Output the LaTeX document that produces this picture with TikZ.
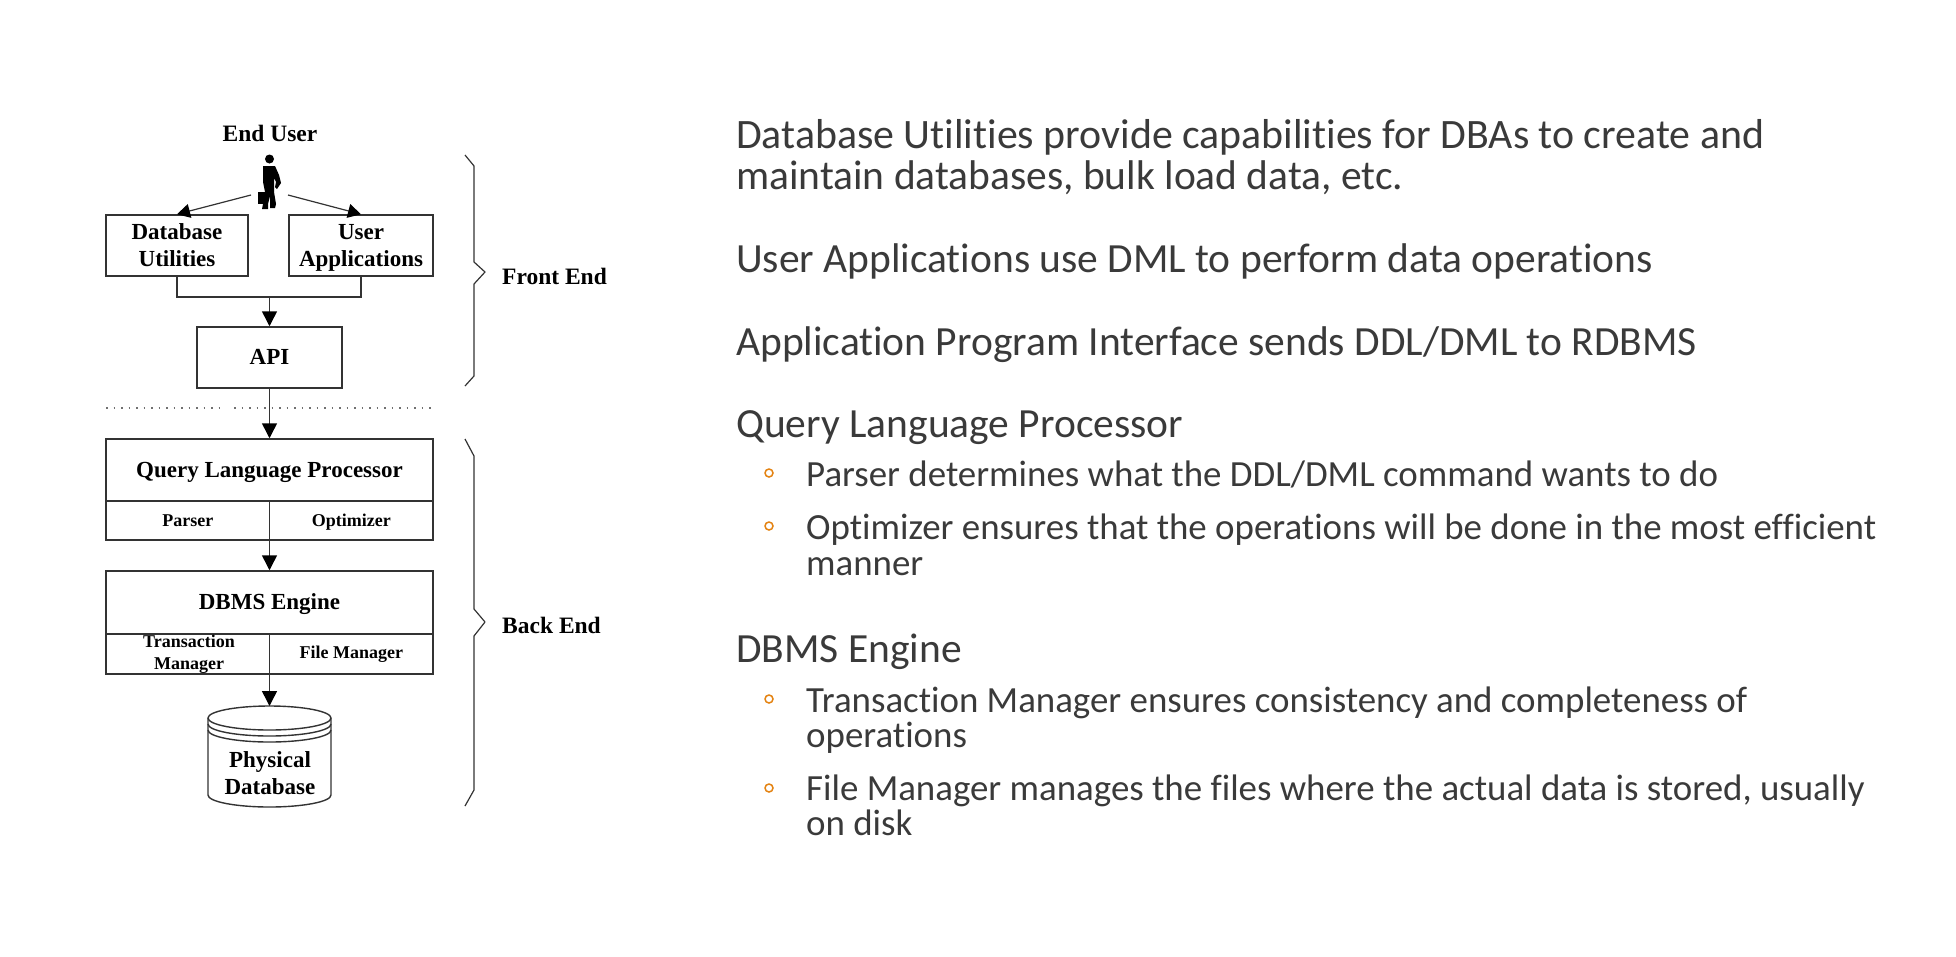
\documentclass[tikz,border=0pt]{standalone}
\usepackage{fontspec}
\setmainfont{Carlito}[Ligatures=NoCommon]
\newfontfamily\dgfont{Liberation Serif}[BoldFont={Liberation Serif Bold}]
\usetikzlibrary{arrows.meta,calc}
\definecolor{ink}{HTML}{333333}
\definecolor{slide}{HTML}{3A3A3A}
\definecolor{accent}{HTML}{E48312}
\tikzset{
  x=1pt,y=-1pt,
  dgbox/.style={draw=ink,line width=1.5pt,fill=white,inner sep=0pt,align=center,text=black,font=\dgfont\bfseries\fontsize{23}{27}\selectfont},
  dgsmall/.style={dgbox,font=\dgfont\bfseries\fontsize{18}{23}\selectfont},
  dglabel/.style={inner sep=0pt,text=black,font=\dgfont\bfseries\fontsize{23.5}{24}\selectfont},
  conn/.style={draw=ink,line width=1.5pt},
  arr/.style={conn,-{Triangle[length=15pt,width=15pt,color=black]}},
  thin arr/.style={conn,line width=1.2pt,-{Triangle[length=13pt,width=14pt,color=black]}},
  bracecurve/.style={draw=ink,line width=1.2pt,line join=round},
  headline/.style={anchor=base west,inner sep=0pt,text=slide,font=\fontsize{41.5}{41}\selectfont},
  headwide/.style={headline,font=\fontsize{41.85}{41}\selectfont},
  subline/.style={anchor=base west,inner sep=0pt,text=slide,font=\fontsize{36.9}{37}\selectfont},
  bulletdot/.style={circle,draw=accent,line width=1.5pt,minimum size=8pt,inner sep=0pt},
}
\begin{document}
\begin{tikzpicture}
\useasboundingbox (0,0) rectangle (1956,956);
\fill[white] (0,0) rectangle (1956,956);

% user figure
\node[dglabel] (enduser) at (270,133) {End User};
\coordinate (userL) at (251,195);
\coordinate (userR) at (288,195);
\fill[black] (269.5,159) circle (4.5);
\fill[black] (263,166) -- (275,166) -- (279,175) -- (281,183) -- (277,189) -- (275,187) -- (276,182) -- (274,178)
  -- (274,192) -- (276,204) -- (275,208) -- (270,208) -- (270,196) -- (268,204) -- (268,209) -- (262,209) -- (263,204) -- (265,192) -- (263,182) -- cycle;
\fill[black] (258,192) rectangle (267,204);

% front end boxes
\node[dgbox,minimum width=142pt,minimum height=61pt] (dbu) at (177,245.5) {Database\\Utilities};
\node[dgbox,minimum width=144pt,minimum height=61pt,text depth=0pt] (uapp) at (361,245.5) {User\\Applications};
\node[dgbox,minimum width=145pt,minimum height=61pt,text depth=1pt] (api) at (269.5,357.5) {API};

% dotted separator
\coordinate (dotA) at (106,408);
\coordinate (dotB) at (219,408);
\coordinate (dotC) at (234,408);
\coordinate (dotD) at (433,408);
\draw[ink!70,line width=1.5pt,dash pattern=on 1.5pt off 6pt] (dotA) -- (dotB) (dotC) -- (dotD);

% back end boxes
\node[dgbox,minimum width=327pt,minimum height=62pt,text depth=0pt] (qlp) at (269.5,470) {Query Language Processor};
\node[dgsmall,minimum width=163.5pt,minimum height=39pt] (parser) at (187.75,520.5) {Parser};
\node[dgsmall,minimum width=163.5pt,minimum height=39pt,text depth=0pt] (optimizer) at (351.25,520.5) {Optimizer};
\node[dgbox,minimum width=327pt,minimum height=63pt,text depth=2pt] (dbms) at (269.5,602.5) {DBMS Engine};
\node[dgsmall,minimum width=163.5pt,minimum height=40pt] (txn) at (187.75,654) {};
\node[dgsmall,minimum width=163.5pt,minimum height=40pt] (fileman) at (351.25,654) {File Manager};
\node[inner sep=0pt,align=center,text=black,font=\dgfont\bfseries\fontsize{18}{22}\selectfont] (txnlabel) at (189,654) {Transaction\\Manager};

% cylinder
\draw[ink,line width=1.4pt,fill=white] (208,718) arc[start angle=180,end angle=360,x radius=61.5,y radius=12]
  -- (331,795) arc[start angle=0,end angle=180,x radius=61.5,y radius=12] -- cycle;
\draw[ink,line width=1.4pt] (208,718) arc[start angle=180,end angle=0,x radius=61.5,y radius=12];
\draw[ink,line width=1.4pt] (208,724) arc[start angle=180,end angle=0,x radius=61.5,y radius=12];
\draw[ink,line width=1.4pt] (208,730) arc[start angle=180,end angle=0,x radius=61.5,y radius=12];
\coordinate (cyltop) at (269.5,706);
\node[inner sep=0pt,align=center,text=black,font=\dgfont\bfseries\fontsize{23}{27}\selectfont] (physdb) at (270,773) {Physical\\Database};

% connectors
\draw[thin arr] (userL) -- (dbu.north);
\draw[thin arr] (userR) -- (uapp.north);
\coordinate (merge) at (269.5,297);
\draw[conn] (dbu.south) |- (merge) -| (uapp.south);
\draw[arr] (merge) -- (api.north);
\draw[arr] (api.south) -- (qlp.north);
\draw[arr] (qlp.south) -- (dbms.north);
\draw[arr] (dbms.south) -- (cyltop);

% braces
\coordinate (feTop) at (465,155);
\coordinate (feTip) at (485,272);
\coordinate (feBot) at (465,386);
\draw[bracecurve] (feTop) -- (474,166) -- (474,262) -- (feTip) -- (474,284) -- (474,376) -- (feBot);
\coordinate (beTop) at (465,439);
\coordinate (beTip) at (485,622);
\coordinate (beBot) at (465,806);
\draw[bracecurve] (beTop) -- (474,456) -- (474,609) -- (beTip) -- (474,636) -- (474,790) -- (beBot);
\node[dglabel,anchor=west] (fe) at (502,276) {Front End};
\node[dglabel,anchor=west] (be) at (502,625) {Back End};

% slide text
\node[headwide] (t1) at (736,148) {Database Utilities provide capabilities for DBAs to create and};
\node[headline] (t2) at (736,189) {maintain databases, bulk load data, etc.};
\node[headline] (t3) at (736,272) {User Applications use DML to perform data operations};
\node[headline] (t4) at (736,355) {Application Program Interface sends DDL/DML to RDBMS};
\node[headline] (t5) at (736,437) {Query Language Processor};
\node[subline] (s1) at (806,486) {Parser determines what the DDL/DML command wants to do};
\node[subline] (s2) at (806,539) {Optimizer ensures that the operations will be done in the most efficient};
\node[subline] (s3) at (806,575) {manner};
\node[headline] (t6) at (736,662) {DBMS Engine};
\node[subline] (s4) at (806,712) {Transaction Manager ensures consistency and completeness of};
\node[subline] (s5) at (806,747) {operations};
\node[subline] (s6) at (806,800) {File Manager manages the files where the actual data is stored, usually};
\node[subline] (s7) at (806,835) {on disk};
\node[bulletdot] (b1) at (769,473) {};
\node[bulletdot] (b2) at (769,526) {};
\node[bulletdot] (b3) at (769,699) {};
\node[bulletdot] (b4) at (769,788) {};
\end{tikzpicture}
\end{document}
